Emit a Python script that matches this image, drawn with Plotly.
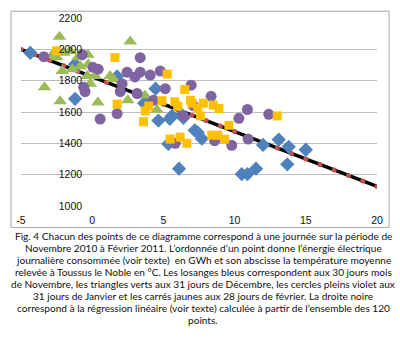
import plotly.graph_objects as go

# Daily temperature (°C) vs daily electricity consumption (GWh)
nov_temp = [-4.35, -1.2, -1.2, 1.75, 4.45, 3.65, 4.65, 5.45, 5.35, 6.1, 5.6, 6.3, 6.4,
            7.2, 7.4, 7.7, 10.5, 10.9, 11.5, 12.0, 13.1, 13.8, 15.0, 13.7]
nov_gwh = [1978, 1904, 1684, 1827, 1749, 1656, 1545, 1557, 1396, 1238, 1575, 1582, 1563,
           1483, 1470, 1430, 1204, 1204, 1238, 1390, 1424, 1378, 1359, 1266]

dec_temp = [-2.3, 2.67, -2.8, -1.55, -0.3, -2.1, -1.4, -0.84, -0.28, -3.35, -2.25, 0.4,
            -0.14, 0.2, 1.26, 1.5, 2.5, 3.7, 4.55, -2.0, -0.35, -2.5, -1.0]
dec_gwh = [2080, 2050, 1966, 1990, 1966, 1861, 1873, 1892, 1904, 1758, 1669, 1660,
           1780, 1830, 1830, 1811, 1675, 1706, 1613, 1978, 1830, 1950, 1950]

jan_temp = [-3.4, -0.7, 0.05, 0.42, -0.6, -0.5, 0.56, 1.75, 2.1, 1.97, 3.37, 2.45, 3.0,
            3.37, 4.07, 4.78, 5.13, 3.15, 4.3, 6.95, 6.4, 5.83, 8.35, 7.1, 10.9, 10.3,
            12.4, 9.8, 10.95, 8.6]
jan_gwh = [1953, 1966, 1885, 1873, 1758, 1730, 1555, 1590, 1780, 1730, 1947, 1854, 1824,
           1854, 1836, 1861, 1749, 1718, 1675, 1771, 1575, 1400, 1700, 1640, 1616, 1560,
           1585, 1387, 1427, 1417]

feb_temp = [-2.5, 1.6, 5.27, 1.75, 3.72, 4.9, 3.97, 5.8, 6.5, 6.9, 3.6, 5.47, 6.18, 6.65,
            7.0, 7.8, 8.5, 8.9, 7.4, 7.6, 6.0, 8.4, 8.8, 9.3, 9.6, 13.0]
feb_gwh = [1990, 1947, 1842, 1650, 1607, 1672, 1638, 1665, 1743, 1675, 1538, 1427, 1440,
           1400, 1656, 1656, 1644, 1622, 1625, 1575, 1638, 1452, 1452, 1427, 1515, 1575]

# Linear regression over all 120 days, evaluated at each integer temperature
reg_temp = list(range(-5, 21))
reg_gwh = [2000, 1965, 1930, 1895, 1860, 1825, 1790, 1755, 1720, 1685, 1650, 1615, 1580,
           1545, 1510, 1475, 1440, 1405, 1370, 1335, 1300, 1265, 1230, 1195, 1160, 1125]

x_ticks = [-5, 0, 5, 10, 15, 20]
x_tick_labels = ["-5", "0", "5", "10", "15", "20"]
y_ticks = [1000, 1200, 1400, 1600, 1800, 2000, 2200]

caption_lines = [
    "Fig. 4 Chacun des points de ce diagramme correspond à une journée sur la période de",
    "Novembre 2010 à Février 2011. L’ordonnée d’un point donne l’énergie électrique",
    "journalière consommée (voir texte)  en GWh et son abscisse la température moyenne",
    "relevée à Toussus le Noble en °C. Les losanges bleus correspondent aux 30 jours mois",
    "de Novembre, les triangles verts aux 31 jours de Décembre, les cercles pleins violet aux",
    "31 jours de Janvier et les carrés jaunes aux 28 jours de février. La droite noire",
    "correspond à la régression linéaire (voir texte) calculée à partir de l’ensemble des 120",
    "points.",
]

fig = go.Figure()

fig.add_trace(go.Scatter(
    x=reg_temp, y=reg_gwh, mode="lines+markers",
    line=dict(color="black", width=3.5),
    marker=dict(symbol="circle", size=5, color="#C0504D"),
    showlegend=False, hoverinfo="skip"))

series = [
    (nov_temp, nov_gwh, "diamond", 11, "#4F81BD"),
    (dec_temp, dec_gwh, "triangle-up", 12, "#9BBB59"),
    (jan_temp, jan_gwh, "circle", 11, "#8064A2"),
    (feb_temp, feb_gwh, "square", 9, "#FFC000"),
]
for xs, ys, sym, size, col in series:
    fig.add_trace(go.Scatter(
        x=xs, y=ys, mode="markers",
        marker=dict(symbol=sym, size=size, color=col, line=dict(width=0)),
        showlegend=False))

font = "Liberation Sans"
fig.update_layout(
    width=400, height=345,
    margin=dict(l=21, r=23, t=13, b=139),
    paper_bgcolor="white", plot_bgcolor="white",
    xaxis=dict(range=[-5, 20], tickvals=x_ticks, ticktext=x_tick_labels,
               showgrid=False, zeroline=False,
               showline=False, ticks="outside", ticklen=4, tickcolor="rgba(0,0,0,0)",
               tickfont=dict(family=font, size=10.5, color="#111"), anchor="y"),
    yaxis=dict(range=[1000, 2200], tickvals=y_ticks, showgrid=True,
               gridcolor="#BEBEBE", gridwidth=1, zeroline=False, showline=False,
               anchor="free", position=0.2, ticks="outside", ticklen=8,
               tickcolor="rgba(0,0,0,0)",
               tickfont=dict(family=font, size=10.5, color="#111")),
)

# Chart frame
fig.add_shape(type="rect", xref="paper", yref="paper",
              x0=-0.028, x1=1.034, y0=-0.114, y1=1.036,
              line=dict(color="#A6A6A6", width=1), fillcolor="rgba(0,0,0,0)")

# Caption below the chart
for i, line in enumerate(caption_lines):
    py = 237 + i * 12.3
    fig.add_annotation(text=line, xref="paper", yref="paper",
                       x=(203 - 21) / 356, y=(206 - py) / 193,
                       xanchor="center", yanchor="middle", showarrow=False,
                       font=dict(family="Lato", size=10.1, color="#111"))

fig.write_html("out.html")
